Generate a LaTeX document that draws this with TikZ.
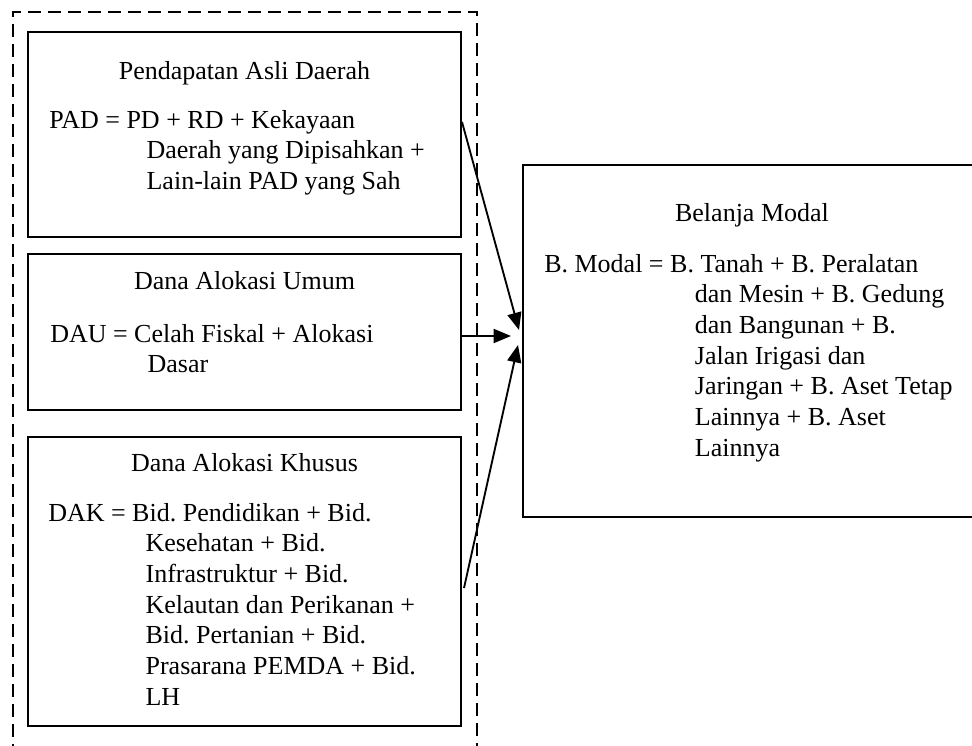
\documentclass[tikz,border=0pt]{standalone}
\usepackage{fontspec}
\setmainfont{Liberation Serif}
\usepackage{tikz}
\usetikzlibrary{positioning, calc, arrows.meta}
\definecolor{Ink}{HTML}{000000}
\definecolor{Paper}{HTML}{FFFFFF}
\newcommand{\hang}{\hspace*{73pt}}
\newcommand{\hangbm}{\hspace*{113pt}}
\frenchspacing
\tikzset{
    srcbox/.style={rectangle, draw=Ink, line width=1.5pt, inner sep=0pt, minimum width=324.75pt},
    groupframe/.style={rectangle, draw=Ink, line width=1.5pt, dash pattern=on 10pt off 5pt, inner sep=0pt},
    boxtitle/.style={anchor=base, inner sep=0pt, text=Ink, font=\fontsize{19.5}{23}\selectfont},
    formula/.style={anchor=north west, inner sep=0pt, align=left, text=Ink, font=\fontsize{19.5}{23}\selectfont},
    arrow/.style={-{Triangle[length=13pt, width=10.5pt]}, line width=1.4pt, color=Ink},
}

\begin{document}
\begin{tikzpicture}[x=0.75pt, y=-0.75pt]
    \clip (0,0) rectangle (972,746);
    \fill[Paper] (0,0) rectangle (972,746);

    % dashed group round the three sources
    \node[groupframe, minimum width=348pt, minimum height=570pt] (group) at (245,392) {};

    % source boxes
    \node[srcbox, minimum height=153.75pt] (pad) at (244.5,134.5) {};
    \node[srcbox, minimum height=117pt] (dau) at (244.5,332) {};
    \node[srcbox, minimum height=216.75pt] (dak) at (244.5,581.5) {};

    % target box
    \node[srcbox, minimum width=350.25pt, minimum height=264pt] (bm) at (756.5,341) {};

    % texts
    \node[boxtitle] (padtitle) at (244.5,79) {Pendapatan Asli Daerah};
    \node[formula] (padbody) at (49,110) {PAD = PD + RD + Kekayaan\\
        \hang Daerah yang Dipisahkan +\\
        \hang Lain-lain PAD yang Sah};

    \node[boxtitle] (dautitle) at (244.5,289) {Dana Alokasi Umum};
    \node[formula] (daubody) at (50,324) {DAU = Celah Fiskal + Alokasi\\
        \hang Dasar};

    \node[boxtitle] (daktitle) at (244.5,471) {Dana Alokasi Khusus};
    \node[formula] (dakbody) at (48,503) {DAK = Bid. Pendidikan + Bid.\\
        \hang Kesehatan + Bid.\\
        \hang Infrastruktur + Bid.\\
        \hang Kelautan dan Perikanan +\\
        \hang Bid. Pertanian + Bid.\\
        \hang Prasarana PEMDA + Bid.\\
        \hang LH};

    \node[boxtitle] (bmtitle) at (752,221) {Belanja Modal};
    \node[formula] (bmbody) at (544,254) {B. Modal = B. Tanah + B. Peralatan\\
        \hangbm dan Mesin + B. Gedung\\
        \hangbm dan Bangunan + B.\\
        \hangbm Jalan Irigasi dan\\
        \hangbm Jaringan + B. Aset Tetap\\
        \hangbm Lainnya + B. Aset\\
        \hangbm Lainnya};

    % connectors
    \draw[arrow] ([yshift=9.4pt]pad.east) -- ([xshift=-2.25pt, yshift=8.25pt]bm.west);
    \draw[arrow] ([yshift=-3pt]dau.east) -- ([xshift=-8.25pt, yshift=3.75pt]bm.west);
    \draw[arrow] ([xshift=1.5pt, yshift=-4.9pt]dak.east) -- ([xshift=-3pt, yshift=-3pt]bm.west);
\end{tikzpicture}
\end{document}
